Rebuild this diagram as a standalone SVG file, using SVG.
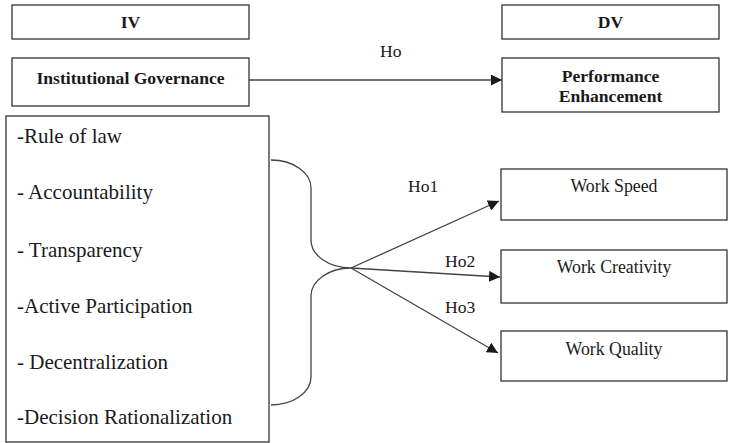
<svg xmlns="http://www.w3.org/2000/svg" width="730" height="443" viewBox="0 0 730 443">
  <style>
    .box { fill: #ffffff; stroke: #333333; stroke-width: 1.3; }
    .hdr { font-family: "Liberation Serif", "Times New Roman", serif; font-weight: bold; font-size: 17.6px; fill: #1a1a1a; text-anchor: middle; }
    .item { font-family: "Liberation Serif", "Times New Roman", serif; font-size: 21px; fill: #1a1a1a; }
    .lbl { font-family: "Liberation Serif", "Times New Roman", serif; font-size: 17.6px; fill: #1a1a1a; }
    .dv { font-family: "Liberation Serif", "Times New Roman", serif; font-size: 17.8px; fill: #1a1a1a; text-anchor: middle; }
    .wire { fill: none; stroke: #444444; stroke-width: 1.3; }
  </style>
  <defs>
    <marker id="arrow" viewBox="0 0 10 10" refX="10" refY="5" markerWidth="11" markerHeight="11" markerUnits="userSpaceOnUse" orient="auto">
      <path d="M0,0 L10,5 L0,10 Z" fill="#1a1a1a"/>
    </marker>
  </defs>

  <rect width="730" height="443" fill="#ffffff"/>

  <!-- independent variable side -->
  <g id="iv-header">
    <rect class="box" x="12" y="5" width="237" height="34"/>
    <text class="hdr" x="130.5" y="28">IV</text>
  </g>
  <g id="institutional-governance">
    <rect class="box" x="12" y="58" width="237" height="48"/>
    <text class="hdr" x="130.5" y="84">Institutional Governance</text>
  </g>
  <g id="governance-dimensions">
    <rect class="box" x="6" y="116" width="263" height="326"/>
    <text class="item" x="17" y="143">-Rule of law</text>
    <text class="item" x="17" y="199">- Accountability</text>
    <text class="item" x="17" y="257">- Transparency</text>
    <text class="item" x="17" y="313">-Active Participation</text>
    <text class="item" x="17" y="369">- Decentralization</text>
    <text class="item" x="17" y="424">-Decision Rationalization</text>
  </g>

  <!-- dependent variable side -->
  <g id="dv-header">
    <rect class="box" x="502" y="5" width="217" height="34"/>
    <text class="hdr" x="610.5" y="28">DV</text>
  </g>
  <g id="performance-enhancement">
    <rect class="box" x="502" y="58" width="217" height="54"/>
    <text class="hdr" x="610.5" y="82">Performance</text>
    <text class="hdr" x="610.5" y="102">Enhancement</text>
  </g>
  <g id="work-speed">
    <rect class="box" x="501" y="169" width="226" height="51"/>
    <text class="dv" x="614" y="192">Work Speed</text>
  </g>
  <g id="work-creativity">
    <rect class="box" x="501" y="250" width="226" height="53"/>
    <text class="dv" x="614" y="273">Work Creativity</text>
  </g>
  <g id="work-quality">
    <rect class="box" x="501" y="331" width="226" height="50"/>
    <text class="dv" x="614" y="355">Work Quality</text>
  </g>

  <!-- connectors -->
  <g id="connectors">
    <line class="wire" x1="249" y1="80" x2="502" y2="80" marker-end="url(#arrow)"/>
    <text class="lbl" x="380" y="57">Ho</text>

    <path class="wire" d="M271,160 A40,28 0 0 1 311,188 L311,240 A40,28 0 0 0 351,268 A40,28 0 0 0 311,296 L311,377 A40,28 0 0 1 271,405"/>

    <line class="wire" x1="351" y1="268" x2="499" y2="201" marker-end="url(#arrow)"/>
    <line class="wire" x1="351" y1="268" x2="500" y2="277" marker-end="url(#arrow)"/>
    <line class="wire" x1="351" y1="268" x2="498" y2="353" marker-end="url(#arrow)"/>
    <text class="lbl" x="408" y="192">Ho1</text>
    <text class="lbl" x="445" y="267">Ho2</text>
    <text class="lbl" x="445" y="313">Ho3</text>
  </g>
</svg>
